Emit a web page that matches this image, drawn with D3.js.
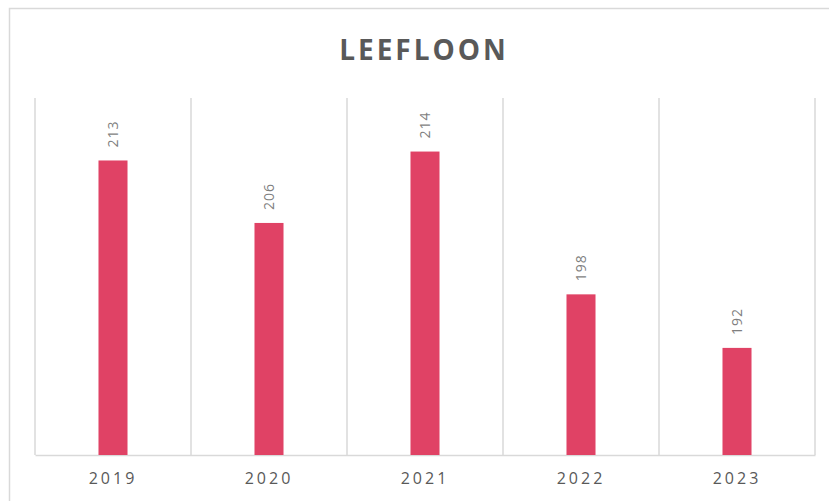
<!DOCTYPE html>
<html><head><meta charset="utf-8">
<script src="https://cdn.jsdelivr.net/npm/d3@7"></script>
<style>html,body{margin:0;padding:0;background:#fff;}svg{display:block;}</style>
</head><body>
<script>
const years = ["2019","2020","2021","2022","2023"];
const values = [213, 206, 214, 198, 192];
const title = "LEEFLOON";
const yDomain = [180, 220];

const W = 829, H = 501;
const svg = d3.select("body").append("svg").attr("width", W).attr("height", H);

// outer frame
svg.append("rect").attr("x", 9.5).attr("y", 8.5).attr("width", W + 20).attr("height", H + 20)
  .attr("fill", "#fff").attr("stroke", "#d9d9d9").attr("stroke-width", 1.5);

const m = {left: 35, right: 14, top: 98, bottom: 46};
const x = d3.scaleBand().domain(years).range([m.left, W - m.right]).paddingInner(0).paddingOuter(0);
const y = d3.scaleLinear().domain(yDomain).range([H - m.bottom, m.top]);

// vertical gridlines at category boundaries
const bounds = years.map(d => x(d)).concat([x(years[years.length-1]) + x.bandwidth()]);
svg.append("g").selectAll("line").data(bounds).join("line")
  .attr("x1", d => d).attr("x2", d => d)
  .attr("y1", y(yDomain[1])).attr("y2", y(yDomain[0]))
  .attr("stroke", "#d9d9d9").attr("stroke-width", 1.5);

// baseline axis
const xAxis = svg.append("g").attr("transform", `translate(0,${y(yDomain[0])})`)
  .call(d3.axisBottom(x).tickSize(0).tickPadding(15));
xAxis.select(".domain").attr("stroke", "#d9d9d9").attr("stroke-width", 1.5);
xAxis.selectAll("text").attr("font-family", "'Open Sans', sans-serif").attr("font-size", 16)
  .attr("fill", "#595959").attr("letter-spacing", "3px").attr("dy", "0.9em");

const bw = x.bandwidth() * 0.186;
svg.append("g").selectAll("rect").data(values).join("rect")
  .attr("x", (d, i) => x(years[i]) + x.bandwidth() / 2 - bw / 2)
  .attr("width", bw)
  .attr("y", d => y(d))
  .attr("height", d => y(yDomain[0]) - y(d))
  .attr("fill", "#e04265");

svg.append("g").selectAll("text").data(values).join("text")
  .attr("transform", (d, i) => `translate(${x(years[i]) + x.bandwidth() / 2 + 5},${y(d) - 13}) rotate(-90)`)
  .attr("text-anchor", "start")
  .attr("font-family", "'Open Sans', sans-serif").attr("font-size", 14)
  .attr("fill", "#7f7f7f").attr("letter-spacing", "1px")
  .text(d => d);

svg.append("text").attr("x", (m.left + W - m.right) / 2 - 1).attr("y", 60)
  .attr("text-anchor", "middle")
  .attr("font-family", "'Open Sans', sans-serif").attr("font-weight", "bold").attr("font-size", 28)
  .attr("letter-spacing", "3px").attr("fill", "#595959")
  .text(title);
</script>
</body></html>
